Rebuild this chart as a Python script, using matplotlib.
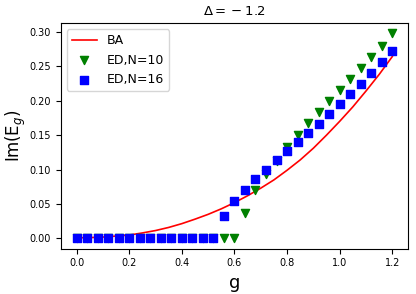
import numpy as np
import matplotlib
matplotlib.use("Agg")
import matplotlib.pyplot as plt

# BA curve
g_ba = [0.0, 0.05, 0.1, 0.15, 0.2, 0.25, 0.3, 0.35, 0.4, 0.45, 0.5, 0.55, 0.6,
        0.65, 0.7, 0.75, 0.8, 0.85, 0.9, 0.95, 1.0, 1.05, 1.1, 1.15, 1.2]
im_ba = [0.001, 0.0013, 0.002, 0.0035, 0.005, 0.008, 0.0115, 0.016, 0.0215, 0.028,
         0.035, 0.043, 0.052, 0.062, 0.073, 0.085, 0.099, 0.114, 0.131, 0.150,
         0.170, 0.191, 0.214, 0.238, 0.264]

# ED points
g_ed = [0.0, 0.04, 0.08, 0.12, 0.16, 0.2, 0.24, 0.28, 0.32, 0.36, 0.4, 0.44, 0.48,
        0.52, 0.56, 0.6, 0.64, 0.68, 0.72, 0.76, 0.8, 0.84, 0.88, 0.92, 0.96, 1.0,
        1.04, 1.08, 1.12, 1.16, 1.2]
im_n10 = [0.0]*16 + [0.037, 0.0705, 0.093, 0.112, 0.133, 0.1505, 0.167, 0.1835,
                     0.200, 0.216, 0.232, 0.248, 0.264, 0.280, 0.2975]
im_n16 = [0.0]*14 + [0.032, 0.054, 0.071, 0.086, 0.100, 0.1135, 0.127, 0.140,
                     0.1535, 0.1665, 0.180, 0.195, 0.209, 0.224, 0.240, 0.2565, 0.272]

fig = plt.figure(figsize=(4.16, 2.94), dpi=100)
ax = fig.add_axes([0.146, 0.154, 0.835, 0.767])
ax.plot(g_ba, im_ba, 'r-', lw=1.2, label='BA')
ax.scatter(g_ed, im_n10, marker='v', color='green', s=34, label='ED,N=10', zorder=3)
ax.scatter(g_ed, im_n16, marker='s', color='blue', s=34, label='ED,N=16', zorder=3)
ax.set_title(r'$\Delta = {} - 1.2$', fontsize=9.5)
ax.set_xlabel('g', fontsize=13)
ax.set_ylabel(r'Im(E$_g$)', fontsize=12, labelpad=1)
ax.set_xticks([0.0, 0.2, 0.4, 0.6, 0.8, 1.0, 1.2])
ax.set_yticks([0.0, 0.05, 0.10, 0.15, 0.20, 0.25, 0.30])
ax.yaxis.set_major_formatter(matplotlib.ticker.FormatStrFormatter('%.2f'))
ax.tick_params(labelsize=7)
ax.legend(loc='upper left', fontsize=9)
fig.savefig('out.png', dpi=100)
